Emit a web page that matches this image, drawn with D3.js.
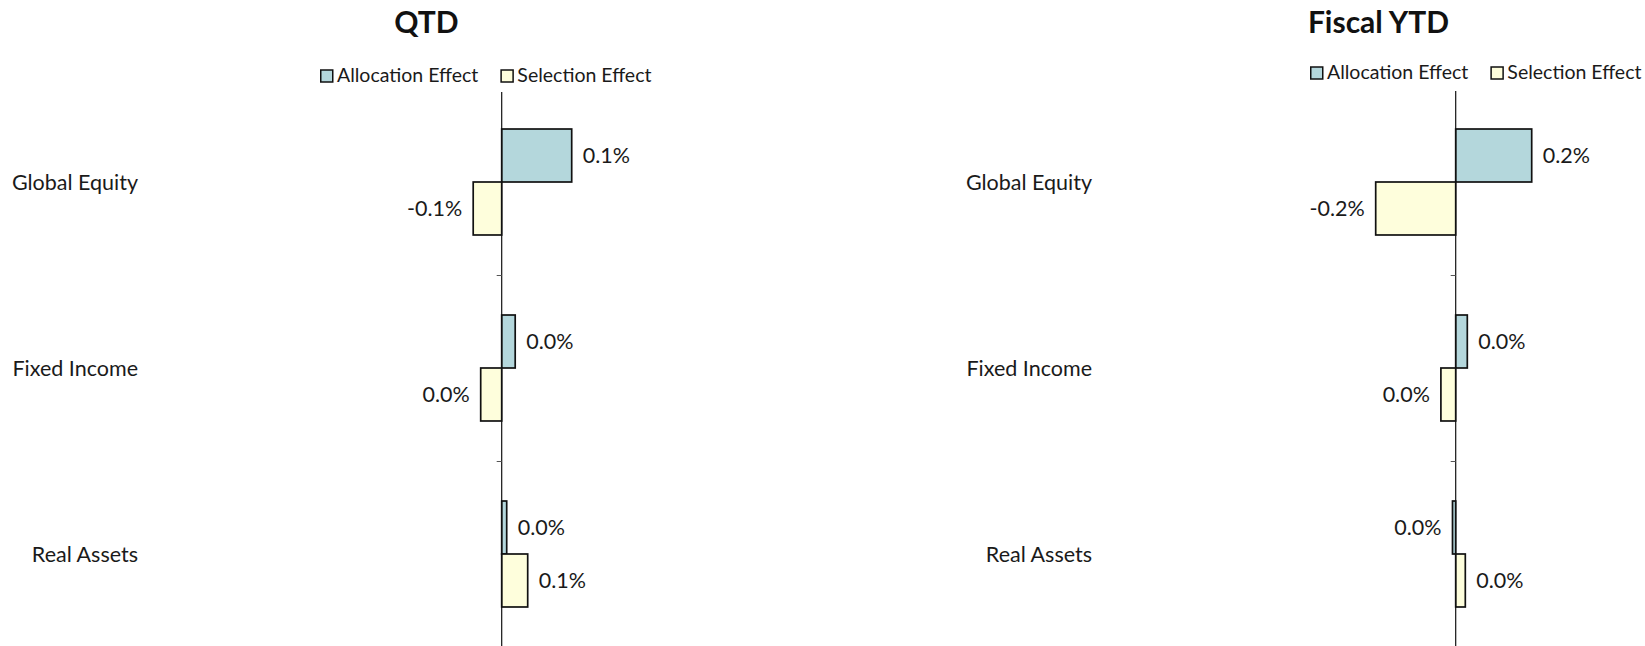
<!DOCTYPE html>
<html>
<head>
<meta charset="utf-8">
<script src="https://cdn.jsdelivr.net/npm/d3@7"></script>
<style>
  html, body { margin: 0; padding: 0; background: #fff; }
  svg { display: block; font-family: Lato, "Open Sans", sans-serif; }
</style>
</head>
<body>
<svg id="chart" width="1645" height="646"></svg>
<script>
// Attribution effects by asset class, in percent
const categories = ["Global Equity", "Fixed Income", "Real Assets"];
const seriesNames = ["Allocation Effect", "Selection Effect"];
const seriesColors = ["#b4d7dc", "#fefedc"];

const qtdAllocation = [0.14, 0.027, 0.010];
const qtdSelection = [-0.057, -0.042, 0.052];

const fytdAllocation = [0.19, 0.029, -0.008];
const fytdSelection = [-0.20, -0.037, 0.024];

const panelTitles = ["QTD", "Fiscal YTD"];

// One-decimal percent labels with a plain hyphen for negatives
const fmt = d3.formatLocale({ decimal: ".", thousands: ",", grouping: [3], currency: ["", ""], minus: "-" }).format(".1f");
const pct = v => fmt(v) + "%";

const svg = d3.select("#chart");

const panels = [
  { title: panelTitles[0], series: [qtdAllocation, qtdSelection], axisX: 501.7, halfWidth: 150,
    catRight: 138, titleX: 426.5, legendX: 320, legendY: 81.5, top: 92 },
  { title: panelTitles[1], series: [fytdAllocation, fytdSelection], axisX: 1455.7, halfWidth: 120,
    catRight: 1092, titleX: 1378.5, legendX: 1310, legendY: 78.5, top: 91 }
];

// Shared vertical layout: one band per asset class
const y = d3.scaleBand().domain(categories).range([89, 647]).padding(0);
const ySub = d3.scaleBand().domain(seriesNames).range([0, y.bandwidth()]).paddingInner(0).paddingOuter(0.755);

panels.forEach(p => {
  const g = svg.append("g");
  const x = d3.scaleLinear().domain([-0.3, 0.3]).range([p.axisX - p.halfWidth, p.axisX + p.halfWidth]);

  // Title
  g.append("text")
    .attr("x", p.titleX).attr("y", 33)
    .attr("text-anchor", "middle")
    .attr("font-size", 30).attr("font-weight", 700)
    .attr("fill", "#111")
    .text(p.title);

  // Legend
  const leg = g.append("g").attr("transform", `translate(${p.legendX},${p.legendY})`);
  let lx = 0;
  seriesNames.forEach((name, i) => {
    leg.append("rect")
      .attr("x", lx + 0.75).attr("y", -11.5)
      .attr("width", 12).attr("height", 12)
      .attr("fill", seriesColors[i]).attr("stroke", "#111").attr("stroke-width", 1.5);
    const t = leg.append("text")
      .attr("x", lx + 17).attr("y", 0)
      .attr("font-size", 19.5).attr("fill", "#1a1a1a")
      .text(name);
    lx += 17 + t.node().getComputedTextLength() + 22;
  });

  // Category labels
  g.selectAll("text.cat").data(categories).join("text")
    .attr("class", "cat")
    .attr("x", p.catRight)
    .attr("y", d => y(d) + y.bandwidth() / 2)
    .attr("dy", "0.35em")
    .attr("text-anchor", "end")
    .attr("font-size", 21.5).attr("fill", "#1a1a1a")
    .text(d => d);

  // Bars
  p.series.forEach((vals, si) => {
    const rows = categories.map((c, i) => ({ c, v: vals[i] }));
    g.selectAll(`rect.s${si}`).data(rows).join("rect")
      .attr("class", `s${si}`)
      .attr("x", d => Math.min(x(0), x(d.v)))
      .attr("y", d => y(d.c) + ySub(seriesNames[si]))
      .attr("width", d => Math.abs(x(d.v) - x(0)))
      .attr("height", ySub.bandwidth())
      .attr("fill", seriesColors[si])
      .attr("stroke", "#111").attr("stroke-width", 1.7);

    g.selectAll(`text.l${si}`).data(rows).join("text")
      .attr("class", `l${si}`)
      .attr("x", d => d.v < 0 ? x(d.v) - 11 : x(d.v) + 11)
      .attr("y", d => y(d.c) + ySub(seriesNames[si]) + ySub.bandwidth() / 2)
      .attr("dy", "0.36em")
      .attr("text-anchor", d => d.v < 0 ? "end" : "start")
      .attr("font-size", 21.5).attr("fill", "#1a1a1a")
      .text(d => pct(d.v));
  });

  // Vertical category axis at zero with ticks between bands
  g.append("line")
    .attr("x1", x(0)).attr("x2", x(0))
    .attr("y1", p.top).attr("y2", 646)
    .attr("stroke", "#111").attr("stroke-width", 1.2);
  g.selectAll("line.tick").data(categories.slice(1)).join("line")
    .attr("class", "tick")
    .attr("x1", x(0) - 5).attr("x2", x(0))
    .attr("y1", d => Math.round(y(d)) + 0.5).attr("y2", d => Math.round(y(d)) + 0.5)
    .attr("stroke", "#555").attr("stroke-width", 1);
});
</script>
</body>
</html>
